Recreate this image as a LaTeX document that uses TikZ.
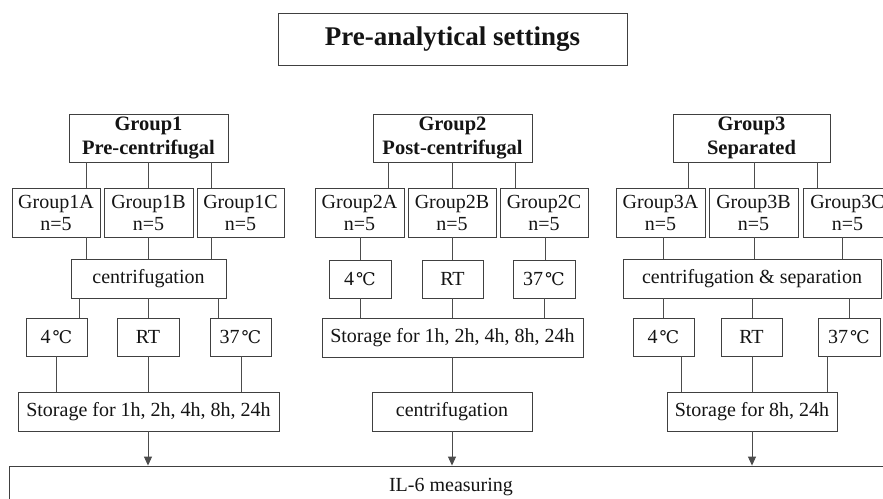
\documentclass[tikz,border=0pt]{standalone}
\usepackage{fontspec}
\setmainfont{Liberation Serif}
\newfontfamily\degfont{DejaVu Serif}
\usetikzlibrary{arrows.meta}
\newcommand{\degc}{\kern2pt{\degfont\fontsize{17.5}{22}\selectfont ℃}}
\begin{document}
\begin{tikzpicture}[x=1pt,y=-1pt,
  box/.style={draw=black!75, line width=0.9pt, rectangle, inner sep=0pt,
    text=black!92, align=center, font=\fontsize{20}{22}\selectfont},
  head/.style={box, font=\fontsize{20.5}{23.5}\selectfont\bfseries},
  link/.style={draw=black!70, line width=0.9pt},
  arr/.style={link, -{Triangle[length=9pt,width=8pt]}}
]
\path[use as bounding box, clip] (0,0) rectangle (883,498);
\fill[white] (0,0) rectangle (883,498);

% title
\node[box, minimum width=349, minimum height=52,
  font=\fontsize{27}{30}\selectfont\bfseries] (title) at (452.5,39) {Pre-analytical settings};

% final measuring box (extends past the right and lower edges)
\node[box, minimum width=884, minimum height=42] (il6) at (451,487) {IL-6 measuring};

% ---------------- Group 1 ----------------
\node[head, minimum width=159, minimum height=48] (g1) at (148.5,138) {Group1\\Pre-centrifugal};
\node[box, minimum width=88, minimum height=49] (g1a) at (56,212.5) {Group1A\\n=5};
\node[box, minimum width=89, minimum height=49] (g1b) at (148.5,212.5) {Group1B\\n=5};
\node[box, minimum width=87, minimum height=49] (g1c) at (240.5,212.5) {Group1C\\n=5};
\node[box, minimum width=155, minimum height=39] (c1) at (148.5,278.5) {centrifugation};
\node[box, minimum width=61, minimum height=38] (t1a) at (56.5,337) {4\degc};
\node[box, minimum width=62, minimum height=38] (t1b) at (148,337) {RT};
\node[box, minimum width=61, minimum height=38] (t1c) at (240.5,337) {37\degc};
\node[box, minimum width=261, minimum height=39] (s1) at (148.5,411.5) {Storage for 1h, 2h, 4h, 8h, 24h};

\draw[link] (g1.south -| 86,0) -- (g1a.north -| 86,0);
\draw[link] (g1.south -| 148,0) -- (g1b.north -| 148,0);
\draw[link] (g1.south -| 211,0) -- (g1c.north -| 211,0);
\draw[link] (g1a.south -| 86,0) -- (c1.north -| 86,0);
\draw[link] (g1b.south -| 148,0) -- (c1.north -| 148,0);
\draw[link] (g1c.south -| 211,0) -- (c1.north -| 211,0);
\draw[link] (c1.south -| 79,0) -- (t1a.north -| 79,0);
\draw[link] (c1.south -| 148,0) -- (t1b.north -| 148,0);
\draw[link] (c1.south -| 218,0) -- (t1c.north -| 218,0);
\draw[link] (t1a.south -| 56,0) -- (s1.north -| 56,0);
\draw[link] (t1b.south -| 148,0) -- (s1.north -| 148,0);
\draw[link] (t1c.south -| 241,0) -- (s1.north -| 241,0);
\draw[arr] (s1.south -| 148,0) -- (il6.north -| 148,0);

% ---------------- Group 2 ----------------
\node[head, minimum width=159, minimum height=48] (g2) at (452.5,138) {Group2\\Post-centrifugal};
\node[box, minimum width=89, minimum height=49] (g2a) at (359.5,212.5) {Group2A\\n=5};
\node[box, minimum width=88, minimum height=49] (g2b) at (452,212.5) {Group2B\\n=5};
\node[box, minimum width=88, minimum height=49] (g2c) at (544,212.5) {Group2C\\n=5};
\node[box, minimum width=62, minimum height=38] (t2a) at (360,279) {4\degc};
\node[box, minimum width=61, minimum height=38] (t2b) at (452.5,279) {RT};
\node[box, minimum width=62, minimum height=38] (t2c) at (544,279) {37\degc};
\node[box, minimum width=261, minimum height=39] (s2) at (452.5,337.5) {Storage for 1h, 2h, 4h, 8h, 24h};
\node[box, minimum width=160, minimum height=39] (c2) at (452,411.5) {centrifugation};

\draw[link] (g2.south -| 388,0) -- (g2a.north -| 388,0);
\draw[link] (g2.south -| 452,0) -- (g2b.north -| 452,0);
\draw[link] (g2.south -| 515,0) -- (g2c.north -| 515,0);
\draw[link] (g2a.south -| 360,0) -- (t2a.north -| 360,0);
\draw[link] (g2b.south -| 452,0) -- (t2b.north -| 452,0);
\draw[link] (g2c.south -| 545,0) -- (t2c.north -| 545,0);
\draw[link] (t2a.south -| 360,0) -- (s2.north -| 360,0);
\draw[link] (t2b.south -| 452,0) -- (s2.north -| 452,0);
\draw[link] (t2c.south -| 544,0) -- (s2.north -| 544,0);
\draw[link] (s2.south -| 452,0) -- (c2.north -| 452,0);
\draw[arr] (c2.south -| 452,0) -- (il6.north -| 452,0);

% ---------------- Group 3 ----------------
\node[head, minimum width=157, minimum height=48] (g3) at (751.5,138) {Group3\\Separated};
\node[box, minimum width=89, minimum height=49] (g3a) at (660.5,212.5) {Group3A\\n=5};
\node[box, minimum width=89, minimum height=49] (g3b) at (753.5,212.5) {Group3B\\n=5};
\node[box, minimum width=89, minimum height=49] (g3c) at (847.5,212.5) {Group3C\\n=5};
\node[box, minimum width=258, minimum height=39] (c3) at (752,278.5) {centrifugation \& separation};
\node[box, minimum width=61, minimum height=38] (t3a) at (663.5,337) {4\degc};
\node[box, minimum width=61, minimum height=38] (t3b) at (751.5,337) {RT};
\node[box, minimum width=62, minimum height=38] (t3c) at (849,337) {37\degc};
\node[box, minimum width=170, minimum height=39] (s3) at (752,411.5) {Storage for 8h, 24h};

\draw[link] (g3.south -| 688,0) -- (g3a.north -| 688,0);
\draw[link] (g3.south -| 754,0) -- (g3b.north -| 754,0);
\draw[link] (g3.south -| 817,0) -- (g3c.north -| 817,0);
\draw[link] (g3a.south -| 663,0) -- (c3.north -| 663,0);
\draw[link] (g3b.south -| 754,0) -- (c3.north -| 754,0);
\draw[link] (g3c.south -| 842,0) -- (c3.north -| 842,0);
\draw[link] (c3.south -| 663,0) -- (t3a.north -| 663,0);
\draw[link] (c3.south -| 752,0) -- (t3b.north -| 752,0);
\draw[link] (c3.south -| 849,0) -- (t3c.north -| 849,0);
\draw[link] (t3a.south -| 681,0) -- (s3.north -| 681,0);
\draw[link] (t3b.south -| 752,0) -- (s3.north -| 752,0);
\draw[link] (t3c.south -| 827,0) -- (s3.north -| 827,0);
\draw[arr] (s3.south -| 752,0) -- (il6.north -| 752,0);
\end{tikzpicture}
\end{document}
